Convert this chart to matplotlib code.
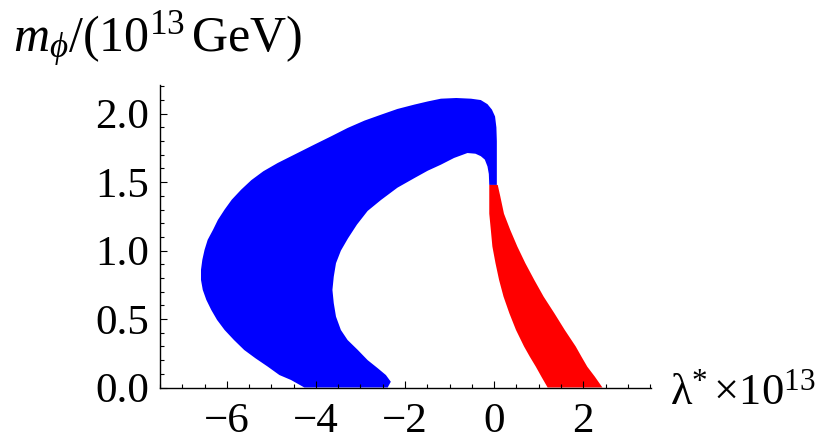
import numpy as np
import matplotlib
matplotlib.use("Agg")
import matplotlib.pyplot as plt
from matplotlib.ticker import MultipleLocator, FormatStrFormatter

plt.rcParams['font.family'] = ['Liberation Serif', 'DejaVu Serif']
plt.rcParams['mathtext.fontset'] = 'custom'
plt.rcParams['mathtext.rm'] = 'Liberation Serif'
plt.rcParams['mathtext.it'] = 'Liberation Serif:italic'

# blue region: outer edge (bottom-left, up and over to the neck at lambda=0)
blue_outer_x = [-4.26, -4.56, -4.82, -5.08, -5.36, -5.61, -5.84, -6.05, -6.22, -6.35, -6.46, -6.54,
                -6.58, -6.58, -6.55, -6.50, -6.43, -6.31, -6.20, -6.05, -5.89, -5.68, -5.45,
                -5.18, -4.86, -4.45, -4.04, -3.66, -3.29, -2.91, -2.54, -2.17, -1.79, -1.49,
                -1.195, -0.85, -0.52, -0.30, -0.15, -0.05, 0.02, 0.05, 0.06, 0.06]
blue_outer_y = [0.0, 0.055, 0.091, 0.152, 0.214, 0.274, 0.347, 0.42, 0.494, 0.567, 0.64, 0.713,
                0.786, 0.86, 0.933, 1.006, 1.079, 1.152, 1.225, 1.30, 1.372, 1.445, 1.515,
                1.58, 1.64, 1.707, 1.774, 1.835, 1.896, 1.95, 1.993, 2.035, 2.067, 2.09,
                2.11, 2.115, 2.11, 2.10, 2.07, 2.03, 1.98, 1.90, 1.80, 1.48]
# blue region: inner edge (neck back down to the bottom)
blue_inner_x = [-0.11, -0.12, -0.15, -0.21, -0.30, -0.42, -0.60, -0.90, -1.195, -1.49, -1.79,
                -2.17, -2.54, -2.84, -3.08, -3.28, -3.44, -3.55, -3.60, -3.63, -3.60, -3.55,
                -3.44, -3.29, -3.06, -2.84, -2.61, -2.43, -2.32, -2.39]
blue_inner_y = [1.48, 1.56, 1.615, 1.665, 1.69, 1.708, 1.713, 1.677, 1.628, 1.584, 1.53,
                1.46, 1.37, 1.29, 1.19, 1.09, 1.0, 0.908, 0.81, 0.713, 0.616, 0.518,
                0.42, 0.347, 0.274, 0.20, 0.14, 0.091, 0.042, 0.0]

# red region
red_left_x = [-0.11, -0.11, -0.075, -0.04, 0.03, 0.11, 0.21, 0.34, 0.49, 0.67, 0.80, 0.935, 1.06, 1.20]
red_left_y = [1.48, 1.27, 1.152, 1.03, 0.908, 0.786, 0.664, 0.543, 0.42, 0.30, 0.225, 0.152, 0.079, 0.0]
red_right_x = [0.08, 0.135, 0.22, 0.36, 0.52, 0.70, 0.90, 1.11, 1.35, 1.585, 1.83, 1.96, 2.09, 2.26, 2.43]
red_right_y = [1.48, 1.40, 1.27, 1.152, 1.03, 0.908, 0.786, 0.664, 0.543, 0.42, 0.30, 0.225, 0.152, 0.079, 0.0]

fig = plt.figure(figsize=(8.27, 4.43), dpi=100)
ax = fig.add_axes([160/827, 1 - 387.5/443, 491/827, 302.5/443])

bx = np.concatenate([blue_outer_x, blue_inner_x])
by = np.concatenate([blue_outer_y, blue_inner_y])
ax.fill(bx, by, color='#0000ff', lw=0)

rx = np.concatenate([red_left_x, red_right_x[::-1]])
ry = np.concatenate([red_left_y, red_right_y[::-1]])
ax.fill(rx, ry, color='#ff0000', lw=0)

ax.set_xlim(-7.5, 3.52)
ax.set_ylim(0, 2.21)

for s in ['top', 'right']:
    ax.spines[s].set_visible(False)
for s in ['left', 'bottom']:
    ax.spines[s].set_linewidth(1.0)

ax.xaxis.set_major_locator(MultipleLocator(2))
ax.xaxis.set_minor_locator(MultipleLocator(0.5))
ax.yaxis.set_major_locator(MultipleLocator(0.5))
ax.yaxis.set_minor_locator(MultipleLocator(0.1))
ax.yaxis.set_major_formatter(FormatStrFormatter('%.1f'))

ax.tick_params(which='both', direction='in', width=0.8, labelsize=31)
ax.tick_params(which='major', length=5)
ax.tick_params(which='minor', length=3.2)
ax.tick_params(axis='x', pad=11)
ax.tick_params(axis='y', pad=8)

fig.text(13/827, 1 - 52/443, r'$m_{\phi}/(10^{13}\,\mathrm{GeV})$', fontsize=36,
         ha='left', va='baseline')
fig.text(670/827, 1 - 404/443, r'$\mathregular{λ^{*}\,{\times}10^{13}}$', fontsize=32,
         ha='left', va='baseline')

fig.savefig('out.png', dpi=100)
